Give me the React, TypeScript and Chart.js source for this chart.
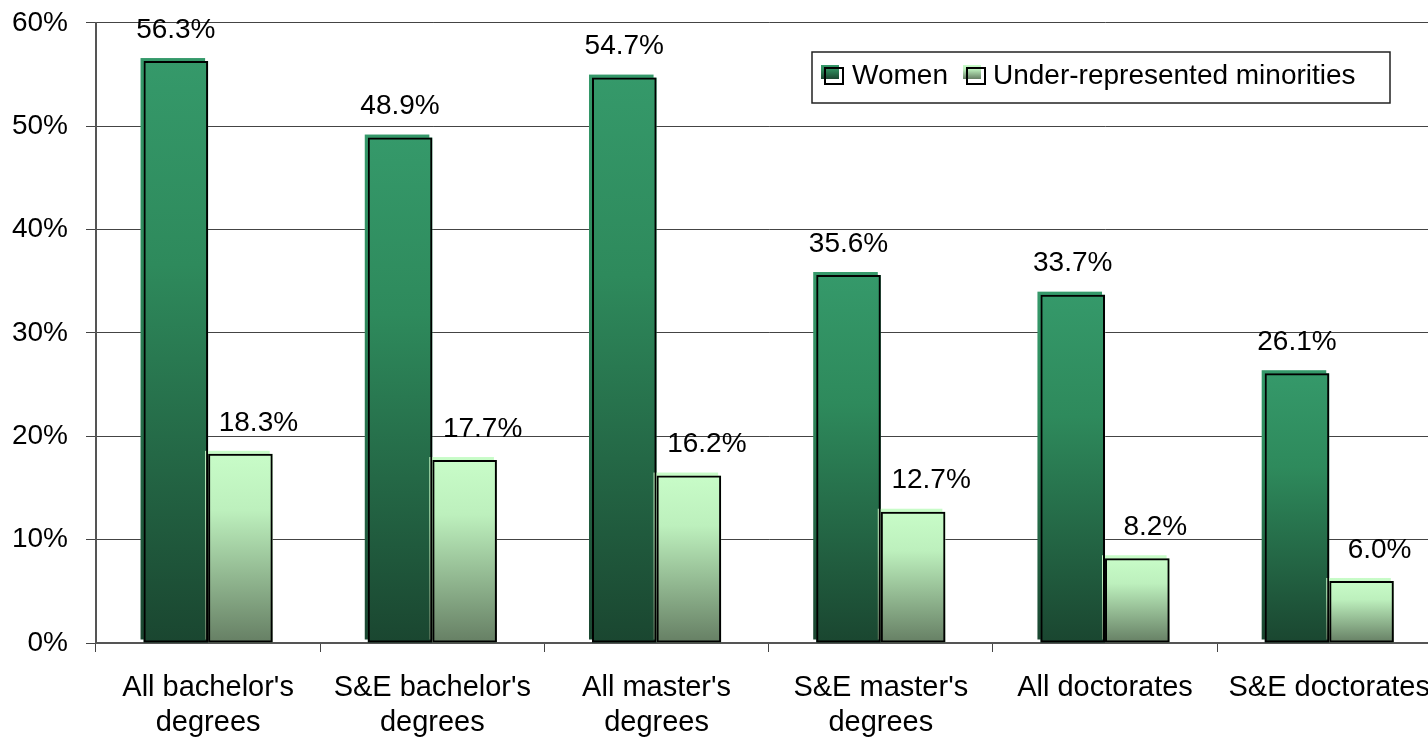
import React, { useEffect, useRef } from "react";
import { Chart, registerables } from "chart.js";

Chart.register(...registerables);

const categories: (string | string[])[] = [
  ["All bachelor's", "degrees"],
  ["S&E bachelor's", "degrees"],
  ["All master's", "degrees"],
  ["S&E master's", "degrees"],
  "All doctorates",
  "S&E doctorates",
];
const seriesNames = ["Women", "Under-represented minorities"];
const womenValues = [56.3, 48.9, 54.7, 35.6, 33.7, 26.1];
const minorityValues = [18.3, 17.7, 16.2, 12.7, 8.2, 6.0];
const yTicks = [0, 10, 20, 30, 40, 50, 60];

const FONT = '"Liberation Sans", Arial, sans-serif';
const SHIFT = 12; // canvas is shifted up by this many px

const gradStops: [number, string][][] = [
  [
    [0, "#35996a"],
    [0.35, "#2e8a5c"],
    [1, "#1a4630"],
  ],
  [
    [0, "#c8fcc8"],
    [0.3, "#bdf0bd"],
    [1, "#667f64"],
  ],
];

function makeGrad(ctx: CanvasRenderingContext2D, top: number, bottom: number, ds: number) {
  const g = ctx.createLinearGradient(0, top, 0, bottom);
  for (const [o, c] of gradStops[ds]) g.addColorStop(o, c);
  return g;
}

const barFillPlugin = {
  id: "barFill",
  beforeDatasetsDraw(chart: any) {
    const ctx = chart.ctx as CanvasRenderingContext2D;
    chart.data.datasets.forEach((_: any, di: number) => {
      const meta = chart.getDatasetMeta(di);
      meta.data.forEach((el: any) => {
        const left = el.x - el.width / 2;
        const top = el.y;
        const h = el.base - el.y;
        ctx.save();
        ctx.fillStyle = makeGrad(ctx, top - 3, top - 3 + h, di);
        ctx.fillRect(left - 3, top - 3, el.width, h);
        ctx.fillStyle = makeGrad(ctx, top, top + h, di);
        ctx.fillRect(left, top, el.width, h);
        ctx.restore();
      });
    });
  },
};

const labelPlugin = {
  id: "valueLabels",
  afterDatasetsDraw(chart: any) {
    const ctx = chart.ctx as CanvasRenderingContext2D;
    ctx.save();
    ctx.font = `28px ${FONT}`;
    ctx.fillStyle = "#000";
    ctx.textAlign = "center";
    ctx.textBaseline = "middle";
    chart.data.datasets.forEach((ds: any, di: number) => {
      const meta = chart.getDatasetMeta(di);
      meta.data.forEach((el: any, i: number) => {
        const dx = di === 1 ? 18 : 0;
        ctx.fillText(ds.data[i].toFixed(1) + "%", el.x + dx, el.y - 31);
      });
    });
    ctx.restore();
  },
};

const legendPlugin = {
  id: "customLegend",
  afterDraw(chart: any) {
    const ctx = chart.ctx as CanvasRenderingContext2D;
    ctx.save();
    ctx.translate(0, SHIFT);
    ctx.strokeStyle = "#222";
    ctx.lineWidth = 1.5;
    ctx.fillStyle = "#fff";
    ctx.fillRect(812, 52, 578, 51);
    ctx.strokeRect(812, 52, 578, 51);
    const items = [
      { mx: 825, tx: 852 },
      { mx: 967, tx: 993 },
    ];
    ctx.font = `28px ${FONT}`;
    ctx.textBaseline = "middle";
    ctx.textAlign = "left";
    items.forEach((it, i) => {
      ctx.fillStyle = makeGrad(ctx, 65, 79, i);
      ctx.fillRect(it.mx - 4, 65, 18, 14);
      ctx.strokeStyle = "#000";
      ctx.lineWidth = 2;
      ctx.strokeRect(it.mx, 68, 18, 16);
      ctx.fillStyle = "#000";
      ctx.fillText(seriesNames[i], it.tx, 76);
    });
    ctx.restore();
  },
};

export default function App() {
  const ref = useRef<HTMLCanvasElement>(null);
  useEffect(() => {
    document.body.style.margin = "0";
    const chart = new Chart(ref.current!, {
      type: "bar",
      data: {
        labels: categories,
        datasets: [
          {
            label: seriesNames[0],
            data: womenValues,
            backgroundColor: "rgba(0,0,0,0)",
            borderColor: "#000",
            borderWidth: 2,
            borderSkipped: false,
            categoryPercentage: 0.576,
            barPercentage: 1,
          },
          {
            label: seriesNames[1],
            data: minorityValues,
            backgroundColor: "rgba(0,0,0,0)",
            borderColor: "#000",
            borderWidth: 2,
            borderSkipped: false,
            categoryPercentage: 0.576,
            barPercentage: 1,
          },
        ],
      },
      options: {
        responsive: false,
        animation: false,
        layout: { padding: { top: 10, right: 0, left: 0, bottom: 0 } },
        plugins: { legend: { display: false }, tooltip: { enabled: false } },
        scales: {
          y: {
            min: 0,
            max: 60,
            afterFit: (s: any) => {
              s.width = 96;
            },
            afterBuildTicks: (s: any) => {
              s.ticks = yTicks.map((v) => ({ value: v }));
            },
            ticks: {
              callback: (v: any) => v + "%",
              font: { size: 28, family: FONT },
              color: "#000",
              padding: 18,
            },
            grid: { color: "#444", lineWidth: 1, tickLength: 10, tickColor: "#444" },
            border: { color: "#555", width: 2 },
          },
          x: {
            afterFit: (s: any) => {
              s.height = 94;
            },
            ticks: {
              font: { size: 29, family: FONT, lineHeight: 1.2 },
              color: "#000",
              padding: 19,
              maxRotation: 0,
              autoSkip: false,
            },
            grid: { drawOnChartArea: false, tickLength: 9, color: "#444", offset: true },
            border: { color: "#555", width: 2 },
          },
        },
      },
      plugins: [barFillPlugin, labelPlugin, legendPlugin],
    });
    return () => chart.destroy();
  }, []);
  return (
    <div style={{ width: 1428, height: 737, overflow: "hidden", background: "#fff" }}>
      <canvas
        ref={ref}
        width={1449}
        height={737 + SHIFT}
        style={{ display: "block", marginTop: -SHIFT }}
      />
    </div>
  );
}
